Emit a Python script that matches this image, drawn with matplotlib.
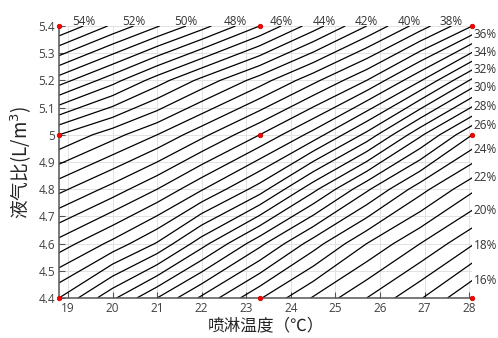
import numpy as np
import matplotlib
matplotlib.use('Agg')
import matplotlib.pyplot as plt

# spray temperature (x) and liquid-gas ratio (y) grid, efficiency (%)
temp = [18.8, 20.0, 21.0, 22.0, 23.3, 24.5, 25.7, 26.9, 28.07]
ratio = [4.4, 4.6, 4.8, 5.0, 5.2, 5.4]
eff = [
    [33.0, 30.2, 28.0, 25.8, 23.1, 20.9, 19.0, 17.1, 15.0],
    [36.6, 34.7, 32.9, 30.4, 27.3, 24.5, 22.0, 20.0, 18.1],
    [40.3, 38.6, 37.0, 35.1, 32.5, 29.3, 26.2, 23.4, 21.2],
    [44.0, 42.4, 41.0, 39.3, 37.0, 34.6, 31.7, 28.2, 25.0],
    [49.5, 47.4, 45.5, 43.7, 41.5, 39.3, 37.0, 34.1, 30.8],
    [55.0, 52.8, 51.1, 49.4, 47.0, 44.5, 42.0, 39.5, 37.0],
]

# measured points (red dots)
dot_temp = [18.8, 23.3, 28.07]
dot_ratio = [4.4, 5.0, 5.4]

levels = list(range(15, 56))
label_levels = list(range(16, 56, 2))

plt.rcParams['font.family'] = ['Open Sans', 'Noto Sans CJK SC', 'DejaVu Sans']

fig = plt.figure(figsize=(4.98, 3.38), dpi=100)
ax = fig.add_axes([59 / 498, 40 / 338, 413.3 / 498, 272 / 338])

X, Y = np.meshgrid(temp, ratio)
Z = np.array(eff)
cs = ax.contour(X, Y, Z, levels=levels, colors='k', linewidths=0.9)

ax.set_xlim(temp[0], temp[-1])
ax.set_ylim(ratio[0], ratio[-1])
ax.set_xticks(range(19, 29))
yt = np.round(np.arange(4.4, 5.41, 0.1), 1)
ax.set_yticks(yt)
ax.set_yticklabels(['%g' % v for v in yt])

ax.grid(True, color='#e2e2e2', linewidth=0.7)
ax.set_axisbelow(True)
for s in ['top', 'right']:
    ax.spines[s].set_visible(False)
for s in ['left', 'bottom']:
    ax.spines[s].set_color('#555555')
    ax.spines[s].set_linewidth(1.1)
ax.tick_params(direction='in', length=4, width=0.8, color='#555555',
               labelcolor='#404040', labelsize=8.5, pad=3)

# red data points
dx, dy = np.meshgrid(dot_temp, dot_ratio)
ax.plot(dx.ravel(), dy.ravel(), 'o', ms=3.2, color='#ff0000', mec='#d00000',
        mew=0.6, clip_on=False, zorder=5)

# percentage labels at the line ends on the top / right edges
for lev in label_levels:
    pts = np.vstack(cs.allsegs[levels.index(lev)])
    top = pts[np.isclose(pts[:, 1], ratio[-1])]
    if len(top):
        ax.annotate('%d%%' % lev, (top[:, 0].max(), ratio[-1]), xytext=(0, 0.5),
                    textcoords='offset points', ha='center', va='baseline',
                    fontsize=8.5, color='#333333', annotation_clip=False)
    else:
        right = pts[np.isclose(pts[:, 0], temp[-1])]
        ax.annotate('%d%%' % lev, (temp[-1], right[:, 1].max()), xytext=(1, 0),
                    textcoords='offset points', ha='left', va='center',
                    fontsize=8.5, color='#333333', annotation_clip=False)

ax.set_xlabel('喷淋温度（℃）', fontsize=12, color='#262626',
              family=['Noto Sans CJK SC'])
ax.xaxis.set_label_coords(0.5, -0.07)
ax.set_ylabel('液气比(L/m$^3$)', fontsize=13.5, color='#262626',
              family=['Noto Sans CJK SC'])
ax.yaxis.set_label_coords(-0.06, 0.5)

fig.savefig('out.png', dpi=100)
